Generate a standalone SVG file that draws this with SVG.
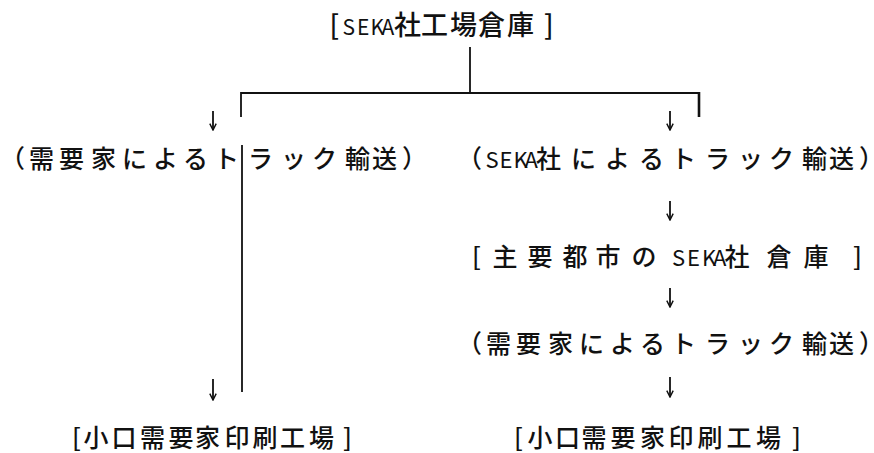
<svg xmlns="http://www.w3.org/2000/svg" width="874" height="453" viewBox="0 0 874 453">
<style>
.t{font-family:"Noto Sans CJK JP","Noto Sans CJK SC",sans-serif;font-size:25px;font-weight:500;fill:#111}
.lat{font-family:"Liberation Sans Narrow","Noto Sans CJK JP",sans-serif;font-size:22px;font-weight:400}
.ln{stroke:#111;stroke-width:1.8;fill:none}
.ar{stroke:#111;stroke-width:1.8;fill:none}
</style>
<defs>
<marker id="ah" viewBox="0 0 10 10" refX="9" refY="5" markerWidth="8" markerHeight="8" orient="auto" markerUnits="userSpaceOnUse">
<path d="M1,1 L9,5 L1,9" fill="none" stroke="#111" stroke-width="1.8"/>
</marker>
</defs>
<rect width="874" height="453" fill="#fff"/>
<g id="connectors">
<line class="ln" x1="470" y1="47" x2="470" y2="93"/>
<line class="ln" x1="241" y1="93" x2="699" y2="93"/>
<line class="ln" x1="241" y1="92" x2="241" y2="117"/>
<line class="ln" x1="699" y1="92" x2="699" y2="117" style="stroke-width:2.6"/>
<line class="ln" x1="242" y1="145" x2="242" y2="392"/>
<line class="ar" x1="213" y1="111" x2="213" y2="130" marker-end="url(#ah)"/>
<line class="ar" x1="670" y1="111" x2="670" y2="130" marker-end="url(#ah)"/>
<line class="ar" x1="670" y1="201" x2="670" y2="220" marker-end="url(#ah)"/>
<line class="ar" x1="670" y1="288" x2="670" y2="307" marker-end="url(#ah)"/>
<line class="ar" x1="670" y1="377" x2="670" y2="397" marker-end="url(#ah)"/>
<line class="ar" x1="213" y1="379" x2="213" y2="400" marker-end="url(#ah)"/>
</g>
<g id="n-factory">
<text class="t" y="35" style="font-size:27px"><tspan x="329.5">[</tspan><tspan class="lat" x="342.5 357 370.5 381.5" style="font-size:21px">SEKA</tspan><tspan x="394 421 450 478 507 544">社工場倉庫]</tspan></text>
</g>
<g id="n-left-truck">
<text class="t" y="168" x="0 29 59 91 122 153 183 214 248 281 312 345 372 402">（需要家によるトラック輸送）</text>
</g>
<g id="n-left-plant">
<text class="t" y="447" x="72 83.5 111.5 140 168.5 195 224.5 252.5 280 309 343">[小口需要家印刷工場]</text>
</g>
<g id="n-right-truck">
<text class="t" y="168"><tspan x="457">（</tspan><tspan class="lat" x="485.5 499.5 513.5 524.5">SEKA</tspan><tspan x="536 571 605 639 671 705 738 769 802 829 859">社によるトラック輸送）</tspan></text>
</g>
<g id="n-warehouse">
<text class="t" y="266"><tspan x="472 492.5 527.5 562.5 595.5 631.5">[主要都市の</tspan><tspan class="lat" x="672 687 702 713">SEKA</tspan><tspan x="724.5 766.5 803.5 853">社倉庫]</tspan></text>
</g>
<g id="n-right-truck2">
<text class="t" y="353" x="457 486 516 548 579 610 640 671 705 738 769 802 829 859">（需要家によるトラック輸送）</text>
</g>
<g id="n-right-plant">
<text class="t" y="447" x="514 527.5 555 581.5 610.5 640 668.5 697.5 726.5 756 792">[小口需要家印刷工場]</text>
</g>
</svg>
